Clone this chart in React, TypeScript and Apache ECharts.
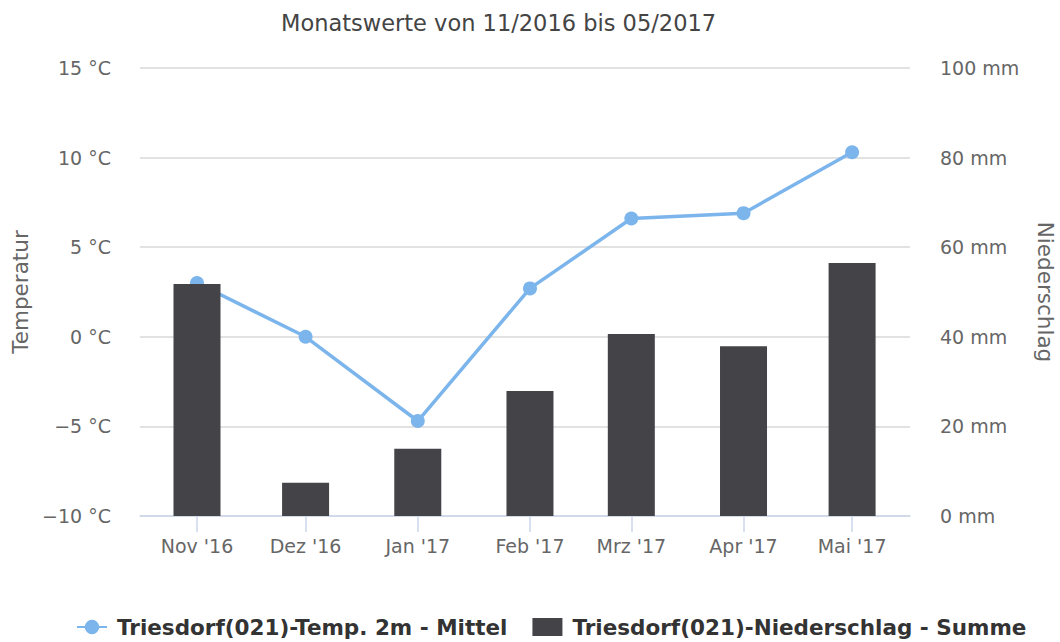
import React, { useEffect, useRef } from "react";
import * as echarts from "echarts";

const DAY = 86400000;
const months = [
  [2016, 10],
  [2016, 11],
  [2017, 0],
  [2017, 1],
  [2017, 2],
  [2017, 3],
  [2017, 4],
];
const monthLabels = ["Nov '16", "Dez '16", "Jan '17", "Feb '17", "Mrz '17", "Apr '17", "Mai '17"];
const temperature = [3.0, 0.0, -4.7, 2.7, 6.6, 6.9, 10.3];
const precipitation = [51.8, 7.4, 15.0, 27.9, 40.6, 37.9, 56.5];
const tempTicks = { min: -10, max: 15, interval: 5 };
const precTicks = { min: 0, max: 100, interval: 20 };

const titleText = "Monatswerte von 11/2016 bis 05/2017";
const tempName = "Triesdorf(021)-Temp. 2m - Mittel";
const precName = "Triesdorf(021)-Niederschlag - Summe";

export default function App() {
  const ref = useRef<HTMLDivElement>(null);
  useEffect(() => {
    if (!ref.current) return;
    const chart = echarts.init(ref.current, undefined, { renderer: "svg" });
    const times = months.map(([y, m]) => new Date(y, m, 1).getTime());
    const labelMap: Record<number, string> = {};
    times.forEach((t, i) => (labelMap[t] = monthLabels[i]));
    const font = "DejaVu Sans, Verdana, sans-serif";
    // plot width 770px; ECharts widens a time axis by the bar width (47px), so pre-shrink
    const plotW = 770;
    const barW = 47;
    const ppd = plotW / 212.75; // px per day in the reference
    const halfBarDays = barW / 2 / ppd;
    const minus = (s: string) => s.replace("-", "\u2212");
    chart.setOption({
      animation: false,
      textStyle: { fontFamily: font },
      title: {
        text: titleText,
        left: 281,
        top: 11,
        padding: 0,
        textStyle: { fontSize: 22.5, fontWeight: "normal", color: "#444444", fontFamily: font },
      },
      legend: {
        bottom: 4,
        left: 76,
        padding: 0,
        itemWidth: 30,
        itemHeight: 18,
        itemGap: 25,
        textStyle: { fontSize: 21.5, fontWeight: "bold", color: "#333333", padding: [0, 0, 0, 5] },
        data: [{ name: tempName }, { name: precName, icon: "rect" }],
      },
      grid: { left: 140, right: 150, top: 68, bottom: 126, outerBoundsMode: "none", containLabel: false },
      xAxis: {
        type: "time",
        min: times[0] - (15.75 - halfBarDays) * DAY,
        max: times[6] + (16 - halfBarDays) * DAY,
        splitNumber: 7,
        axisLine: { onZero: false, lineStyle: { color: "#ccd6eb", width: 1.5 } },
        axisTick: { show: true, length: 16, lineStyle: { color: "#ccd6eb", width: 1.5 } },
        splitLine: { show: false },
        minorTick: { show: false },
        axisLabel: {
          color: "#666666",
          fontSize: 19,
          margin: 20,
          showMinLabel: false,
          showMaxLabel: false,
          formatter: (v: number) => labelMap[v] ?? "",
        },
      },
      yAxis: [
        {
          type: "value",
          ...tempTicks,
          name: "Temperatur",
          nameLocation: "middle",
          nameGap: 107,
          nameTextStyle: { color: "#666666", fontSize: 21.5 },
          axisLabel: {
            color: "#666666",
            fontSize: 19,
            margin: 29,
            formatter: (v: number) => minus(`${v} °C`),
          },
          splitLine: { lineStyle: { color: "#d8d8d8", width: 1.5 } },
          axisLine: { show: false },
          axisTick: { show: false },
        },
        {
          type: "value",
          ...precTicks,
          name: "Niederschlag",
          nameLocation: "middle",
          nameGap: 124,
          nameRotate: -90,
          nameTextStyle: { color: "#666666", fontSize: 21.5 },
          axisLabel: { color: "#666666", fontSize: 19, margin: 30, formatter: "{value} mm" },
          splitLine: { show: false },
          axisLine: { show: false },
          axisTick: { show: false },
        },
      ],
      series: [
        {
          name: tempName,
          type: "line",
          yAxisIndex: 0,
          z: 2,
          data: times.map((t, i) => [t, temperature[i]]),
          symbol: "circle",
          symbolSize: 14,
          lineStyle: { color: "#7cb5ec", width: 3.5 },
          itemStyle: { color: "#7cb5ec" },
        },
        {
          name: precName,
          type: "bar",
          yAxisIndex: 1,
          z: 3,
          barWidth: barW,
          data: times.map((t, i) => [t, precipitation[i]]),
          itemStyle: { color: "#434348" },
        },
      ],
    });
    return () => chart.dispose();
  }, []);
  return (
    <div
      ref={ref}
      style={{ position: "fixed", left: 0, top: 0, width: 1060, height: 642, background: "#fff" }}
    />
  );
}
